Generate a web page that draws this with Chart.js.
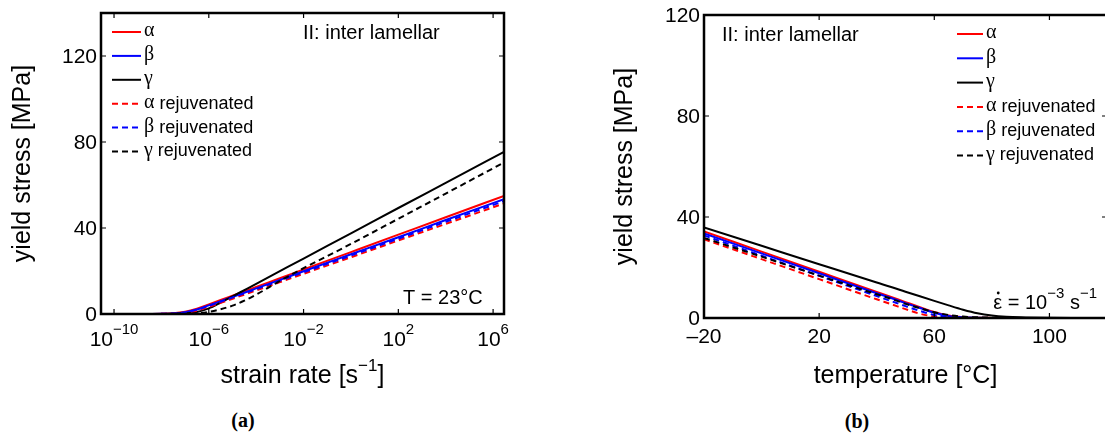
<!DOCTYPE html>
<html><head><meta charset="utf-8">
<script src="https://cdn.jsdelivr.net/npm/chart.js@4.4.1/dist/chart.umd.min.js"></script>
<style>
html,body{margin:0;padding:0;background:#fff;width:1105px;height:437px;overflow:hidden;position:relative}
canvas{position:absolute}
.lab{position:absolute;font:bold 20px "Liberation Serif";transform:translate(-50%,-50%);color:#000}
</style></head><body>
<canvas id="c1" width="540" height="400" style="left:0;top:0;width:540px;height:400px"></canvas>
<canvas id="c2" width="560" height="400" style="left:600px;top:0;width:560px;height:400px"></canvas>
<div class="lab" style="left:243px;top:420px">(a)</div>
<div class="lab" style="left:857px;top:421px">(b)</div>
<script>
// ---------- data ----------
const seriesLabels = ['α','β','γ','α rejuvenated','β rejuvenated','γ rejuvenated'];

// (a) strain rate given as decimal exponents (rate = 10^exp), T = 23 °C
const strainRateExp = [-10.55,-9,-8.5,-8,-7.5,-7,-6.5,-6,-5.5,-5,-4.5,-4,-3,-2,0,2,4,6.46];
const alphaRate   = [0,0.01,0.04,0.11,0.35,1.06,2.5,4.47,6.5,8.5,10.5,12.6,16.6,20.7,28.8,36.9,45.0,54.9];
const betaRate    = [0,0.01,0.03,0.09,0.27,0.83,2.1,4.0,5.95,7.9,9.9,11.9,15.9,19.9,27.8,35.7,43.7,53.4];
const gammaRate   = [0,0,0.01,0.035,0.1,0.3,0.94,2.6,5.3,8.2,11.1,14.0,19.9,25.8,37.5,49.3,61.0,75.4];
const alphaRejRate= [0,0,0.02,0.06,0.17,0.54,1.55,3.3,5.2,7.1,9.0,10.95,14.8,18.7,26.4,34.2,41.9,51.4];
const betaRejRate = [0,0,0.03,0.08,0.25,0.75,1.96,3.8,5.7,7.7,9.6,11.6,15.5,19.4,27.2,35.0,42.9,52.5];
const gammaRejRate= [0,0,0,0,0.02,0.05,0.3,1.0,2.2,3.9,6.2,9.0,15.4,21.3,32.6,44.3,56.0,70.5];

// (b) temperature [°C], strain rate 1e-3 /s
const temperature = [-20,0,20,40,45,50,55,60,65,70,75,80,85,90,100,110,120];
const alphaTemp   = [34.3,26.3,18.3,10.3,8.3,6.3,4.3,2.4,0.97,0.33,0.11,0.04,0.01,0,0,0,0];
const betaTemp    = [33.5,25.6,17.7,9.8,7.9,5.9,3.97,2.1,0.83,0.27,0.09,0.03,0.01,0,0,0,0];
const gammaTemp   = [35.9,28.6,21.3,14.05,12.3,10.4,8.6,6.8,5.0,3.3,1.9,1.0,0.5,0.25,0.06,0.01,0];
const alphaRejTemp= [31.2,23.3,15.4,7.4,5.5,3.5,1.7,0.6,0.2,0.06,0.02,0,0,0,0,0,0];
const betaRejTemp = [32.7,24.7,16.7,8.7,6.7,4.7,2.8,1.2,0.4,0.12,0.04,0.01,0,0,0,0,0];
const gammaRejTemp= [31.7,24.3,16.8,9.4,7.6,5.6,3.9,2.3,1.2,0.55,0.26,0.12,0.05,0.02,0,0,0];

// ticks
const rateTickExp = [-10,-6,-2,2,6];
const tempTicks = [-20,20,60,100];
const tempTickLabels = ['–20','20','60','100'];
const stressTicks = [0,40,80,120];
const stressTickLabels = ['0','40','80','120'];

// ---------- styling ----------
const COLORS = ['#ff0000','#0000ff','#000000','#ff0000','#0000ff','#000000'];
const DASHED = [false,false,false,true,true,true];
const SANS = '"Liberation Sans", Arial, Helvetica, sans-serif';
const SERIF = '"Liberation Serif", "Times New Roman", serif';

function drawSegs(ctx, segs, x, y, align){
  let w = 0;
  for (const s of segs){ ctx.font = s.font; w += ctx.measureText(s.t).width; }
  let cx = align === 'center' ? x - w/2 : (align === 'right' ? x - w : x);
  ctx.textAlign = 'left'; ctx.textBaseline = 'middle';
  for (const s of segs){
    ctx.font = s.font; ctx.fillText(s.t, cx, y + (s.dy || 0));
    const sw = ctx.measureText(s.t).width;
    if (s.dot){ ctx.beginPath(); ctx.arc(cx + sw/2 + 0.5, y - 10, 1.4, 0, Math.PI*2); ctx.fill(); }
    cx += sw;
  }
}

function framePlugin(cfg){
  return {
    id: 'frame',
    afterDraw(chart){
      const ctx = chart.ctx, a = chart.chartArea, xs = chart.scales.x, ys = chart.scales.y;
      const ox = cfg.offsetX;
      ctx.save();
      ctx.fillStyle = '#000'; ctx.strokeStyle = '#000';
      // box
      ctx.lineWidth = 2.5; ctx.setLineDash([]);
      ctx.strokeRect(a.left, a.top, a.right - a.left, a.bottom - a.top);
      // inward ticks
      ctx.lineWidth = 1.2;
      const TL = 5;
      ctx.beginPath();
      cfg.xTicks.forEach(v => { const p = xs.getPixelForValue(v);
        ctx.moveTo(p, a.bottom); ctx.lineTo(p, a.bottom - TL);
        ctx.moveTo(p, a.top); ctx.lineTo(p, a.top + TL); });
      stressTicks.forEach(v => { const p = ys.getPixelForValue(v);
        ctx.moveTo(a.left, p); ctx.lineTo(a.left + TL, p);
        ctx.moveTo(a.right, p); ctx.lineTo(a.right - TL, p); });
      ctx.stroke();
      // y tick labels
      ctx.font = '21px ' + SANS; ctx.textAlign = 'right'; ctx.textBaseline = 'middle';
      stressTicks.forEach((v, i) => ctx.fillText(stressTickLabels[i], a.left - 4, ys.getPixelForValue(v) + 1));
      // x tick labels
      cfg.xTicks.forEach((v, i) => drawSegs(ctx, cfg.xTickSegs(i), xs.getPixelForValue(v), cfg.xTickY, 'center'));
      // x title
      drawSegs(ctx, cfg.xTitle, (a.left + a.right)/2, cfg.xTitleY, 'center');
      // y title
      ctx.save();
      ctx.translate(cfg.yTitleX - ox, (a.top + a.bottom)/2);
      ctx.rotate(-Math.PI/2);
      ctx.font = '25px ' + SANS; ctx.textAlign = 'center'; ctx.textBaseline = 'middle';
      ctx.fillText('yield stress [MPa]', 0, 0);
      ctx.restore();
      // legend
      const lg = cfg.legend;
      chart.data.datasets.forEach((ds, i) => {
        const y = lg.y0 + i * lg.dy;
        ctx.strokeStyle = ds.borderColor; ctx.lineWidth = 2;
        ctx.setLineDash(ds.borderDash || []);
        ctx.beginPath(); ctx.moveTo(lg.x0 - ox, y); ctx.lineTo(lg.x1 - ox, y); ctx.stroke();
        ctx.setLineDash([]);
        ctx.fillStyle = '#000';
        const lab = ds.label;
        drawSegs(ctx, [{t: lab[0], font: '20px ' + SERIF, dy: -1}, {t: lab.slice(1), font: '18px ' + SANS}], lg.tx - ox, y, 'left');
      });
      // annotations
      ctx.fillStyle = '#000';
      cfg.notes.forEach(n => drawSegs(ctx, n.segs, n.x - ox, n.y, n.align));
      ctx.restore();
    }
  };
}

function makeChart(id, cfg, xVals, series){
  const datasets = series.map((arr, i) => ({
    label: seriesLabels[i],
    data: xVals.map((xv, j) => ({x: xv, y: arr[j]})),
    borderColor: COLORS[i], borderWidth: 2, borderDash: DASHED[i] ? [6,4] : [],
    pointRadius: 0, fill: false, cubicInterpolationMode: 'monotone', order: 6 - i
  }));
  return new Chart(document.getElementById(id), {
    type: 'line',
    data: {datasets},
    options: {
      responsive: false, animation: false, devicePixelRatio: 1,
      layout: {padding: {left: 0, top: cfg.padTop, right: cfg.padRight, bottom: 0}},
      plugins: {legend: {display: false}, tooltip: {enabled: false}},
      scales: {
        x: {type: cfg.xType, min: cfg.xMin, max: cfg.xMax,
            grid: {display: false}, border: {display: false}, ticks: {display: false},
            afterBuildTicks(s){ s.ticks = cfg.xTicks.map(v => ({value: v})); },
            afterFit(s){ s.height = cfg.xH; }},
        y: {type: 'linear', min: 0, max: cfg.yMax,
            grid: {display: false}, border: {display: false}, ticks: {display: false},
            afterBuildTicks(s){ s.ticks = stressTicks.map(v => ({value: v})); },
            afterFit(s){ s.width = cfg.yW; }}
      }
    },
    plugins: [framePlugin(cfg)]
  });
}

// chart (a)
makeChart('c1', {
  offsetX: 0, padTop: 13, padRight: 36, xH: 86, yW: 101,
  xType: 'logarithmic', xMin: Math.pow(10, -10.55), xMax: Math.pow(10, 6.46), yMax: 140,
  xTicks: rateTickExp.map(e => Math.pow(10, e)),
  xTickSegs: i => [{t: '10', font: '21px ' + SANS}, {t: (rateTickExp[i] < 0 ? '−' : '') + Math.abs(rateTickExp[i]), font: '15px ' + SANS, dy: -10}],
  xTickY: 340,
  xTitle: [{t: 'strain rate [s', font: '25px ' + SANS}, {t: '−1', font: '17px ' + SANS, dy: -10}, {t: ']', font: '25px ' + SANS}],
  xTitleY: 376, yTitleX: 23,
  legend: {x0: 112, x1: 141, tx: 144, y0: 32, dy: 23.9},
  notes: [
    {segs: [{t: 'II: inter lamellar', font: '20px ' + SANS}], x: 303, y: 33, align: 'left'},
    {segs: [{t: 'T = 23°C', font: '20px ' + SANS}], x: 403, y: 298, align: 'left'}
  ]
}, strainRateExp.map(e => Math.pow(10, e)),
   [alphaRate, betaRate, gammaRate, alphaRejRate, betaRejRate, gammaRejRate]);

// chart (b)
makeChart('c2', {
  offsetX: 600, padTop: 15, padRight: 53, xH: 82, yW: 104,
  xType: 'linear', xMin: -20, xMax: 120, yMax: 120,
  xTicks: tempTicks,
  xTickSegs: i => [{t: tempTickLabels[i], font: '21px ' + SANS}],
  xTickY: 337,
  xTitle: [{t: 'temperature [°C]', font: '25px ' + SANS}],
  xTitleY: 376, yTitleX: 625,
  legend: {x0: 957, x1: 983, tx: 986, y0: 34, dy: 24.3},
  notes: [
    {segs: [{t: 'II: inter lamellar', font: '20px ' + SANS}], x: 722, y: 35, align: 'left'},
    {segs: [{t: 'ε', font: '20px ' + SANS, dot: true}, {t: ' = 10', font: '20px ' + SANS}, {t: '−3', font: '15px ' + SANS, dy: -9}, {t: ' s', font: '20px ' + SANS}, {t: '−1', font: '15px ' + SANS, dy: -9}], x: 1097, y: 303, align: 'right'}
  ]
}, temperature, [alphaTemp, betaTemp, gammaTemp, alphaRejTemp, betaRejTemp, gammaRejTemp]);
</script>
</body></html>
